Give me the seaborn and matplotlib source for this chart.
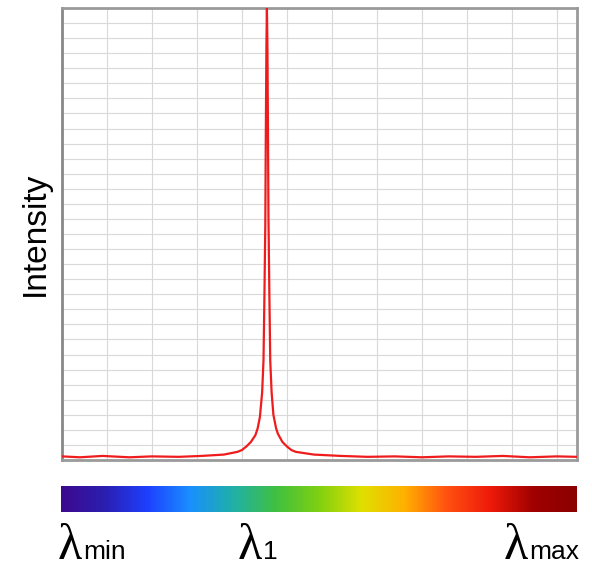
import numpy as np
import pandas as pd
import matplotlib
matplotlib.use("Agg")
import matplotlib.pyplot as plt
from matplotlib.colors import LinearSegmentedColormap
import seaborn as sns

# spectrum (x in grid units, intensity normalised to the peak)
position = [0.0, 0.4, 0.9, 1.5, 2.0, 2.6, 3.1, 3.6, 3.9, 4.0, 4.1, 4.2, 4.3,
            4.35, 4.4, 4.45, 4.48, 4.50, 4.52, 4.53, 4.545, 4.556, 4.567, 4.58,
            4.59, 4.61, 4.63, 4.66, 4.7, 4.76, 4.8, 4.9, 5.0, 5.1, 5.2, 5.6,
            6.2, 6.8, 7.4, 8.0, 8.6, 9.2, 9.8, 10.4, 11.0, 11.45]
intensity = [0.008, 0.006, 0.009, 0.006, 0.008, 0.007, 0.009, 0.012, 0.018,
             0.022, 0.030, 0.040, 0.055, 0.070, 0.095, 0.150, 0.220, 0.360,
             0.520, 0.700, 0.920, 1.000, 0.920, 0.720, 0.540, 0.370, 0.220,
             0.150, 0.100, 0.070, 0.058, 0.040, 0.030, 0.022, 0.018, 0.012,
             0.009, 0.007, 0.008, 0.006, 0.008, 0.007, 0.009, 0.006, 0.008,
             0.007]

# rainbow strip colours, left to right
strip_colors = ["#3d0a8f", "#2a1fb0", "#1e40ff", "#1a8fff", "#20b0a8", "#40c040",
                "#80d010", "#e0e000", "#ffb000", "#ff5010", "#ee1a0a", "#a00000",
                "#8b0000"]
labels = [("λ", "min"), ("λ", "1"), ("λ", "max")]
label_x = [58, 238, 504]

df = pd.DataFrame({"position": position, "intensity": intensity})

sns.set_style("white")
plt.rcParams["font.family"] = ["Liberation Sans", "DejaVu Sans"]

fig = plt.figure(figsize=(5.92, 5.74), dpi=100)
W, H = 592, 574
ax = fig.add_axes([62 / W, 1 - 460 / H, 515 / W, 452 / H])

sns.lineplot(data=df, x="position", y="intensity", ax=ax, color="#ee1c1c",
             linewidth=1.6, zorder=3)

ax.set_xlim(0, 11.45)
ax.set_ylim(0, 1.0)
ax.set_xticks(np.arange(1, 12))
ax.set_yticks(np.linspace(0, 1, 31))
ax.grid(True, color="#d9d9d9", linewidth=0.8)
ax.tick_params(length=0, labelbottom=False, labelleft=False)
ax.set_xlabel("")
ax.set_ylabel("Intensity", fontsize=24, labelpad=8, color="black")
for side, sp in ax.spines.items():
    sp.set_color("#9a9a9a")
    sp.set_linewidth(2.0)
ax.spines["left"].set_color("#888888")

# colour strip below the plot
cax = fig.add_axes([61 / W, 1 - 512 / H, 516 / W, 26 / H])
cmap = LinearSegmentedColormap.from_list("spec", strip_colors)
cax.imshow(np.linspace(0, 1, 512)[None, :], aspect="auto", cmap=cmap)
cax.set_axis_off()

base_y = 1 - 559 / H
for (greek, sub), x in zip(labels, label_x):
    t = fig.text(x / W, base_y, greek, fontsize=36, family="Liberation Serif",
                 va="baseline", ha="left", color="black")
    fig.canvas.draw()
    bb = t.get_window_extent()
    fig.text(bb.x1 / W + 0.001, base_y, sub, fontsize=19, va="baseline",
             ha="left", color="black")

fig.savefig("out.png", dpi=100)
